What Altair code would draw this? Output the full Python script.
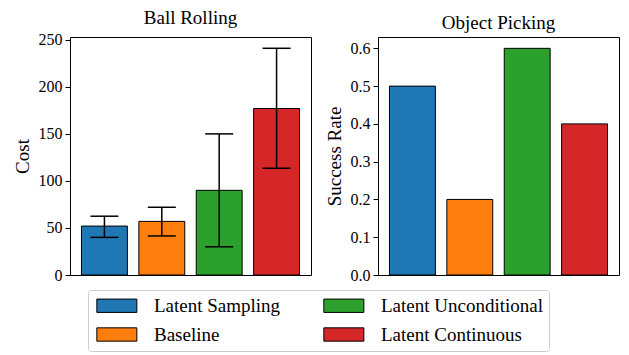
import altair as alt
import pandas as pd

methods = ["Latent Sampling", "Baseline", "Latent Unconditional", "Latent Continuous"]
colors = ["#1f77b4", "#ff7f0e", "#2ca02c", "#d62728"]

cost = [52, 57, 90, 177]
cost_low = [40, 41.5, 30, 113.5]
cost_high = [62.5, 72, 150, 241]
success = [0.5, 0.2, 0.6, 0.4]

df_cost = pd.DataFrame({"method": methods, "cost": cost, "lo": cost_low, "hi": cost_high})
df_succ = pd.DataFrame({"method": methods, "rate": success})

FONT = "Liberation Serif"
FONT_L = "Times New Roman, Liberation Serif, serif"
W, H = 241, 238

x_enc = alt.X("method:N", sort=methods, axis=None,
              scale=alt.Scale(paddingInner=0.2, paddingOuter=0.2))
color_enc = alt.Color("method:N", title=None,
                      scale=alt.Scale(domain=methods, range=colors),
                      legend=alt.Legend(orient="none", legendX=18, legendY=253, columns=2,
                                        direction="vertical", labelFont=FONT_L))

bars1 = alt.Chart(df_cost).mark_bar(stroke="black", strokeWidth=1, opacity=1).encode(
    x=x_enc,
    y=alt.Y("cost:Q", title="Cost",
            scale=alt.Scale(domain=[0, 253], nice=False, zero=True),
            axis=alt.Axis(values=[0, 50, 100, 150, 200, 250], labelFont=FONT_L)),
    color=color_enc,
)
err = alt.Chart(df_cost).mark_rule(color="black", strokeWidth=1.5).encode(
    x=alt.X("method:N", sort=methods),
    y="lo:Q", y2="hi:Q",
)
cap_lo = alt.Chart(df_cost).mark_tick(color="black", thickness=1.5, size=28, opacity=1).encode(
    x=alt.X("method:N", sort=methods), y="lo:Q")
cap_hi = alt.Chart(df_cost).mark_tick(color="black", thickness=1.5, size=28, opacity=1).encode(
    x=alt.X("method:N", sort=methods), y="hi:Q")

left = alt.layer(bars1, err, cap_lo, cap_hi).properties(
    width=W, height=H, title=alt.Title("Ball Rolling"))

bars2 = alt.Chart(df_succ).mark_bar(stroke="black", strokeWidth=1, opacity=1).encode(
    x=x_enc,
    y=alt.Y("rate:Q", title="Success Rate",
            scale=alt.Scale(domain=[0, 0.63], nice=False, zero=True),
            axis=alt.Axis(values=[0, 0.1, 0.2, 0.3, 0.4, 0.5, 0.6], format=".1f",
                          labelFont=FONT_L)),
    color=color_enc,
)
right = bars2.properties(width=W, height=H, title=alt.Title("Object Picking"))

chart = alt.hconcat(left, right, spacing=12).properties(
    padding={"left": 4, "top": 0, "right": 0, "bottom": 0}
).configure(
    font=FONT,
).configure_view(
    stroke="black", strokeWidth=1
).configure_axis(
    tickColor="black", tickSize=5, labelPadding=3, titlePadding=6,
    labelFontSize=16, titleFontSize=19, titleFontWeight="normal",
    labelColor="black", titleColor="black", grid=False, domain=False,
    labelFont=FONT_L, titleFont=FONT,
).configure_title(
    font=FONT, fontSize=19, fontWeight="normal", color="black", offset=0
).configure_legend(
    labelFont=FONT_L, labelFontSize=19, labelColor="black",
    symbolType="M-1,-1H5V1H-1Z", symbolSize=178,
    symbolStrokeColor="black", symbolStrokeWidth=1, symbolOpacity=1,
    strokeColor="#cccccc", cornerRadius=3, padding=6,
    labelOffset=41, columnPadding=40, rowPadding=9, labelLimit=300,
)

chart.save("out.html", embed_options={"renderer": "svg", "actions": False})
